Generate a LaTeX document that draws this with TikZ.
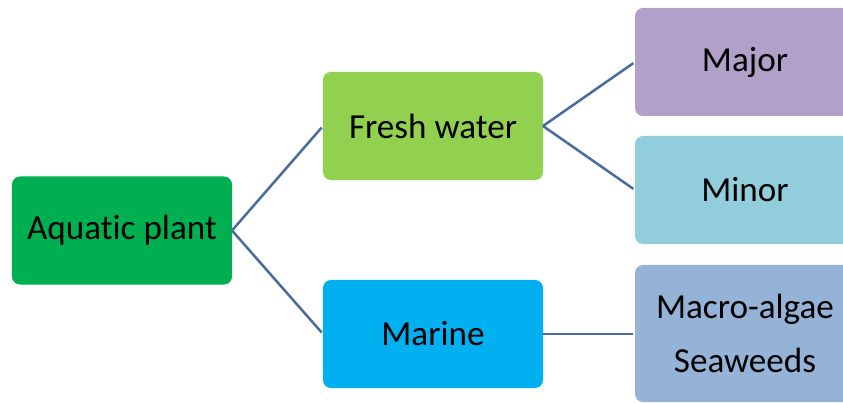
\documentclass[tikz,border=0pt]{standalone}
\usepackage{fontspec}
\setmainfont{Carlito}[Ligatures={NoCommon}]
\usepackage{tikz}
\usetikzlibrary{positioning}

\definecolor{aquagreen}{RGB}{0,176,80}
\definecolor{freshgreen}{RGB}{146,208,80}
\definecolor{marinecyan}{RGB}{0,176,240}
\definecolor{majorpurple}{RGB}{177,160,199}
\definecolor{minorblue}{RGB}{146,205,220}
\definecolor{algaeblue}{RGB}{149,179,215}
\definecolor{linkblue}{RGB}{74,107,156}

\begin{document}
\begin{tikzpicture}[x=0.03cm, y=-0.03cm,
  box/.style={rectangle, rounded corners=0.24cm, inner sep=0pt, outer sep=0pt,
    minimum width=6.6cm, minimum height=3.24cm, align=center,
    font=\fontsize{30}{45.5}\selectfont},
  link/.style={draw=linkblue, line width=0.075cm, shorten >=0.06cm}]
\useasboundingbox (0,0) rectangle (843,403);

\node[box, fill=aquagreen] at (122,230.5) (aquatic) {Aquatic plant} ;
\node[box, fill=freshgreen] at (433,126) (fresh) {Fresh water} ;
\node[box, fill=marinecyan] at (433,334) (marine) {Marine} ;
\node[box, fill=majorpurple] at (745,62) (major) {Major} ;
\node[box, fill=minorblue] at (745,190) (minor) {Minor} ;
\node[box, fill=algaeblue, minimum height=4.11cm] at (745,333.5) (algae) {Macro-algae\\Seaweeds} ;

\draw[link] (aquatic.east) -- (fresh.west) ;
\draw[link] (aquatic.east) -- (marine.west) ;
\draw[link] (fresh.east) -- (major.west) ;
\draw[link] (fresh.east) -- (minor.west) ;
\draw[link] (marine.east) -- (marine.east -| algae.west) ;
\end{tikzpicture}
\end{document}
